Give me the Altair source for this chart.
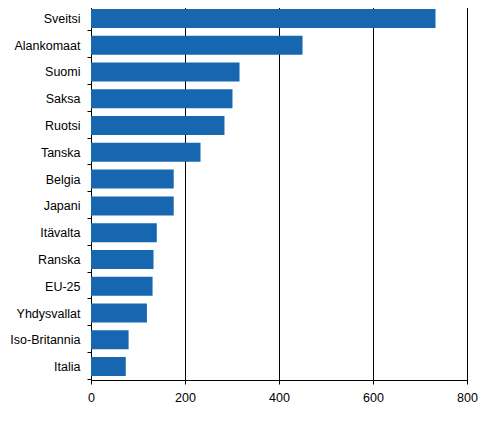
import altair as alt
import pandas as pd

maat = ['Sveitsi', 'Alankomaat', 'Suomi', 'Saksa', 'Ruotsi', 'Tanska', 'Belgia',
        'Japani', 'Itävalta', 'Ranska', 'EU-25', 'Yhdysvallat', 'Iso-Britannia', 'Italia']
arvot = [733, 450, 316, 301, 284, 233, 176, 176, 140, 133, 131, 119, 80, 74]

df = pd.DataFrame({'maa': maat, 'arvo': arvot})

chart = alt.Chart(df).mark_bar(color='#1767b0', size=19).encode(
    alt.X('arvo:Q', title=None,
          scale=alt.Scale(domain=[0, 800], nice=False),
          axis=alt.Axis(values=[0, 200, 400, 600, 800], grid=True, gridColor='black',
                        gridOpacity=1, domain=False, ticks=True, tickColor='black',
                        tickOpacity=1, tickWidth=1, tickSize=4, labelFlush=False,
                        labelPadding=7, labelColor='black', labelFontSize=12.5,
                        labelFont='Liberation Sans')),
    alt.Y('maa:N', sort=maat, title=None,
          axis=alt.Axis(tickBand='extent', grid=False, domain=False, ticks=True,
                        tickColor='black', tickOpacity=1, tickWidth=1, tickSize=4,
                        labelPadding=7, labelColor='black', labelFontSize=12.5,
                        labelFont='Liberation Sans'))
).properties(
    width=376, height=375,
    autosize=alt.AutoSizeParams(type='none'),
    padding={'left': 83, 'top': -3, 'right': 20, 'bottom': 40}
).configure_view(stroke='black', strokeWidth=1)

chart.save("out.html", embed_options={"renderer": "svg", "actions": False})
